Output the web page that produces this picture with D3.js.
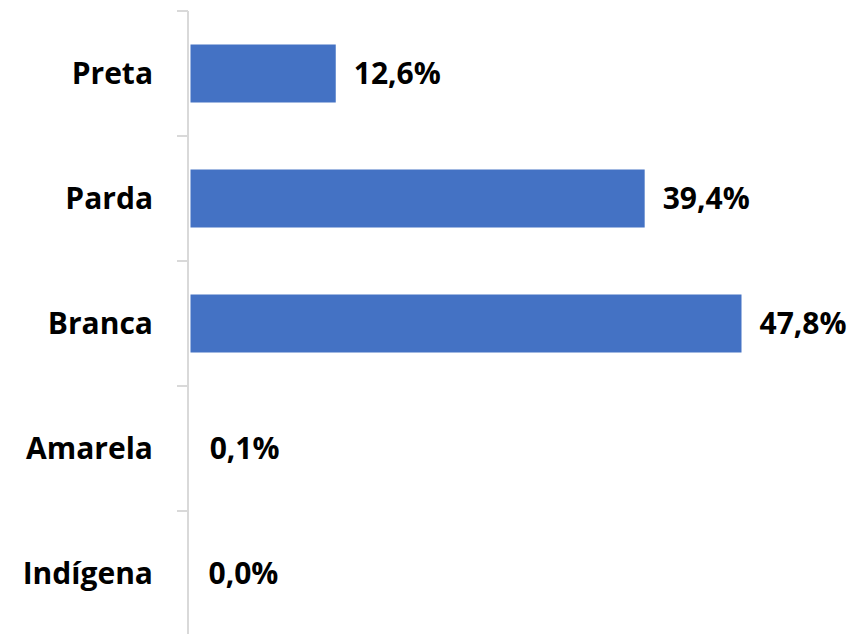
<!DOCTYPE html>
<html>
<head>
<meta charset="utf-8">
<script src="https://cdn.jsdelivr.net/npm/d3@7"></script>
<style>
  body { margin: 0; background: #fff; }
  text { font-family: "Open Sans", "Noto Sans", sans-serif; font-weight: bold; fill: #000; }
</style>
</head>
<body>
<div id="chart"></div>
<script>
var categories = ['Preta', 'Parda', 'Branca', 'Amarela', 'Indígena'];
var values = [12.6, 39.4, 47.8, 0.1, 0.0];
var value_labels = ['12,6%', '39,4%', '47,8%', '0,1%', '0,0%'];

var width = 859;
var height = 634;
var axis_x = 188;
var font_size = 30;

var data = categories.map(function(c, i) {
    return {cat: c, value: values[i], label: value_labels[i]};
});

var svg = d3.select('#chart')
    .append('svg')
    .attr('width', width)
    .attr('height', height);

// scales
var x_scale = d3.scaleLinear()
    .domain([0, 47.8])
    .range([axis_x + 2.5, 741.5]);

var y_scale = d3.scaleBand()
    .domain(categories)
    .range([11, 636])
    .paddingInner(0.536)
    .paddingOuter(0.268);

// tick positions sit on band edges
var edges = categories.map(function(c) {
    return y_scale(c) - y_scale.step() * y_scale.paddingInner() / 2;
});
edges.push(11 + y_scale.step() * categories.length);

// bars (too thin ones are not drawn, like the original)
svg.selectAll('.bar')
    .data(data.filter(function(d) { return x_scale(d.value) - x_scale(0) >= 2; }))
    .enter()
    .append('rect')
    .attr('x', x_scale(0))
    .attr('y', function(d) { return y_scale(d.cat); })
    .attr('width', function(d) { return x_scale(d.value) - x_scale(0); })
    .attr('height', y_scale.bandwidth())
    .attr('fill', '#4472c4');

var axis = svg.append('g');
axis.append('line')
    .attr('x1', axis_x).attr('x2', axis_x)
    .attr('y1', 11).attr('y2', height)
    .attr('stroke', '#d9d9d9')
    .attr('stroke-width', 2);

axis.selectAll('.tick')
    .data(edges)
    .enter()
    .append('line')
    .attr('x1', axis_x - 11).attr('x2', axis_x)
    .attr('y1', function(d) { return d; })
    .attr('y2', function(d) { return d; })
    .attr('stroke', '#d9d9d9')
    .attr('stroke-width', 2);

// category labels
svg.selectAll('.cat')
    .data(data)
    .enter()
    .append('text')
    .attr('x', 153)
    .attr('y', function(d) { return y_scale(d.cat) + y_scale.bandwidth() / 2; })
    .attr('dy', '0.36em')
    .attr('text-anchor', 'end')
    .attr('font-size', font_size)
    .text(function(d) { return d.cat; });

// value labels
svg.selectAll('.val')
    .data(data)
    .enter()
    .append('text')
    .attr('x', function(d) { return x_scale(d.value) + 18; })
    .attr('y', function(d) { return y_scale(d.cat) + y_scale.bandwidth() / 2; })
    .attr('dy', '0.36em')
    .attr('font-size', font_size)
    .text(function(d) { return d.label; });
</script>
</body>
</html>
